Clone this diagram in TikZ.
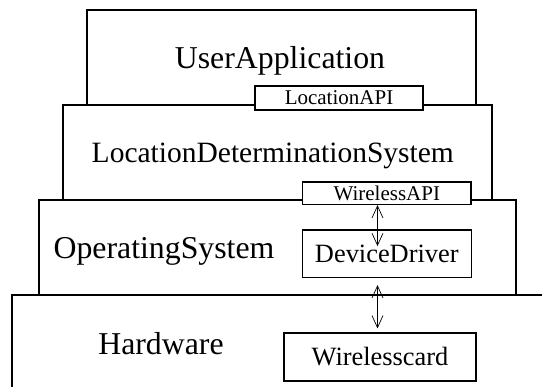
\documentclass[tikz,border=0pt]{standalone}
\usepackage{fontspec}
\setmainfont{Liberation Serif}
\usetikzlibrary{arrows.meta}
\tikzset{layer/.style={draw, line width=2pt, fill=white, inner sep=0pt}}
\tikzset{box/.style={draw, line width=1.1pt, fill=white, inner sep=0pt}}
\tikzset{xl/.style={font=\fontsize{31.8}{32}\selectfont, anchor=base, inner sep=0pt}}
\tikzset{lg/.style={font=\fontsize{26.4}{27}\selectfont}}
\tikzset{sm/.style={font=\fontsize{21}{21}\selectfont}}
\tikzset{conn/.style={{Straight Barb[length=12pt,width=11pt]}-{Straight Barb[length=12pt,width=11pt]}, line width=0.7pt}}

\begin{document}
\begin{tikzpicture}[x=1pt, y=-1pt]
        \useasboundingbox (0,0) rectangle (542,387);
        % layers, top to bottom
        \node [layer, minimum width=389pt, minimum height=95pt] (UA) at (281.5,57.5) {};
        \node [xl] (UAl) at (280,68.3) {UserApplication};
        \node [layer, minimum width=429pt, minimum height=96pt] (LDS) at (277.2,153) {};
        \node [xl, font=\fontsize{29.5}{30}\selectfont] (LDSl) at (272.8,162.7) {LocationDeterminationSystem};
        \node [box, sm, minimum width=168pt, minimum height=24pt] (LAPI) at (339,98) {LocationAPI};
        \node [layer, minimum width=477pt, minimum height=95pt] (OS) at (277.5,248) {};
        \node [xl] (OSl) at (164,258.3) {OperatingSystem};
        \node [box, sm, minimum width=168.3pt, minimum height=22.5pt] (WAPI) at (386.8,193.3) {WirelessAPI};
        \node [box, lg, minimum width=168.5pt, minimum height=47.5pt] (DD) at (386.8,253.8) {DeviceDriver};
        \node [layer, minimum width=560pt, minimum height=124.5pt] (HW) at (292,357.75) {};
        \node [xl] (HWl) at (161,355) {Hardware};
        \node [box, lg, minimum width=192pt, minimum height=48pt] (WC) at (380,357) {Wirelesscard};
        % links
        \coordinate (ax) at (377.5,0);
        \draw [conn] (WAPI.south -| ax) -- ++(0,41);
        \draw [conn, shorten <=7pt, shorten >=4pt] (DD.south -| ax) -- (WC.north -| ax);
      \end{tikzpicture}
\end{document}
